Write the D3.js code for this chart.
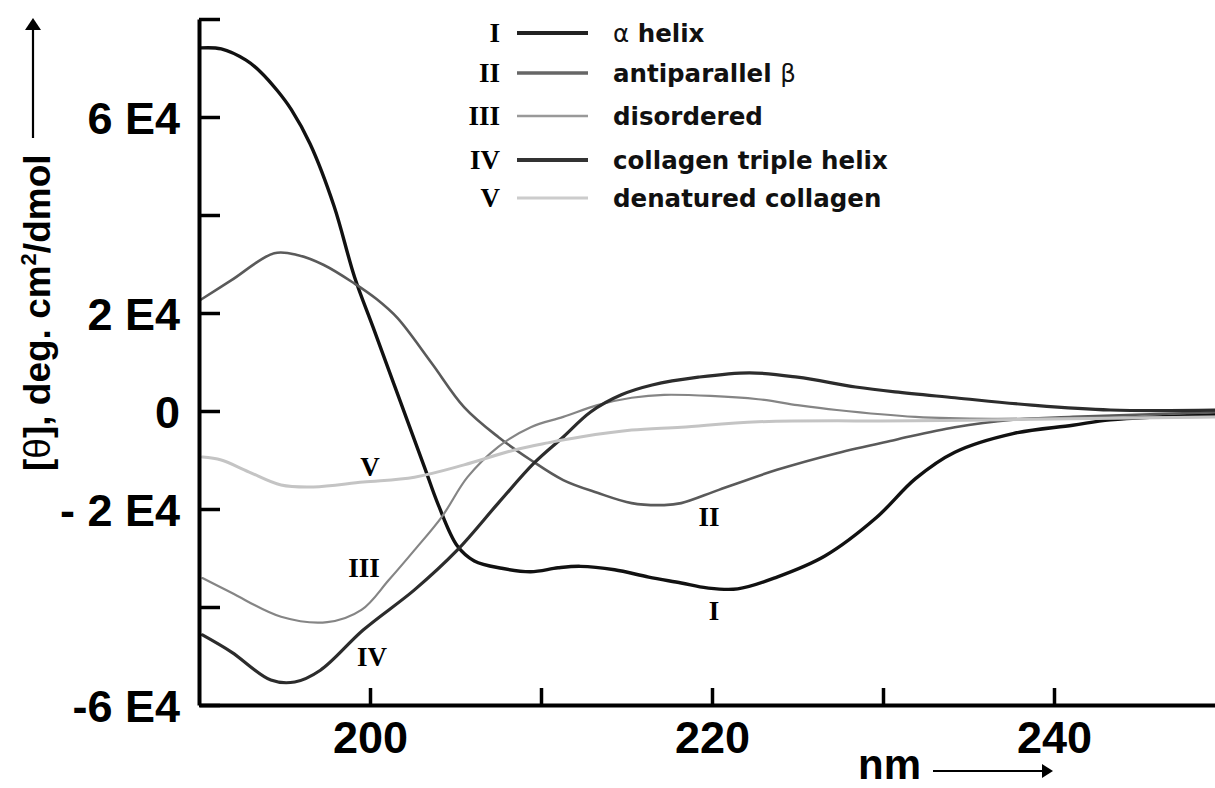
<!DOCTYPE html>
<html><head><meta charset="utf-8">
<script src="https://cdn.jsdelivr.net/npm/d3@7"></script>
<style>body{margin:0;background:#fff} svg{display:block}</style>
</head><body><svg id="c" width="1215" height="788"></svg>
<script>
// ---- data (wavelength nm, mean residue ellipticity deg·cm²/dmol) ----
const xTicks = [200, 210, 220, 230, 240];
const xTickLabels = ["200", "", "220", "", "240"];
const yTicks = [-60000, -40000, -20000, 0, 20000, 40000, 60000, 80000];
const yTickLabels = ["-6 E4", "", "- 2 E4", "0", "2 E4", "", "6 E4", ""];
const seriesIds = ["I", "II", "III", "IV", "V"];
const seriesNames = ["α helix", "antiparallel β", "disordered", "collagen triple helix", "denatured collagen"];

const alphaHelix = [[190.1,74100],[191.3,73900],[192.75,71600],[193.6,69200],[194.6,65300],[195.4,61500],[196.5,54500],[197.9,41800],[199.1,27300],[200.2,16900],[201.4,5500],[202.2,-2100],[203.2,-11600],[204.0,-19200],[205.1,-27500],[206.1,-30600],[207.7,-32100],[209.4,-32800],[211.0,-32000],[212.3,-31700],[214.3,-32400],[216.3,-33900],[218.2,-35100],[219.7,-36100],[221.5,-36300],[223.8,-33900],[226.6,-29600],[229.6,-21800],[231.9,-13800],[234.2,-8400],[237.6,-4600],[241.1,-2900],[243.3,-1800],[250,-700]];
const antiparallelBeta = [[190.1,22700],[191.9,26700],[194.4,32200],[195.8,31800],[197.3,29800],[199.1,26000],[200.4,22800],[201.6,19000],[203.6,9800],[205.5,800],[207.5,-5300],[209.4,-10000],[211.3,-14100],[213.3,-16700],[215.3,-18800],[217.2,-19200],[218.2,-18800],[220.4,-16100],[223.8,-12000],[227.3,-8600],[230.7,-5900],[234.2,-3300],[237.6,-1800],[241.1,-1200],[250,-200]];
const disordered = [[190.2,-34100],[191.9,-37100],[194.8,-42000],[197.5,-43100],[199.5,-40600],[201.1,-34500],[202.6,-28400],[204.2,-21600],[205.7,-13500],[207.5,-7300],[209.4,-3300],[211.3,-1200],[213.3,1200],[215.3,2700],[217.2,3300],[222.7,2400],[225.0,1200],[227.3,200],[231.9,-1200],[236.4,-1600],[241.1,-1400],[250,-1200]];
const collagenTriple = [[190.2,-45700],[191.9,-49200],[194.2,-54900],[195.6,-55300],[197.1,-52900],[199.6,-44700],[202.6,-36500],[205.1,-28400],[207.5,-18800],[209.6,-10600],[211.3,-5300],[212.9,-200],[214.7,3300],[216.5,5300],[219.2,6900],[222.2,7800],[225.0,6900],[228.4,4900],[230.7,3900],[234.2,2700],[238.7,1200],[243.3,200],[250,200]];
const denaturedCollagen = [[190.2,-9400],[191.3,-10000],[192.9,-12400],[194.8,-15100],[196.7,-15500],[199.6,-14500],[202.6,-13500],[205.5,-11000],[208.4,-8000],[210.4,-6500],[212.3,-5300],[215.3,-3900],[218.2,-3300],[222.7,-2200],[231.9,-2000],[241.1,-1600],[250,-1200]];

const seriesData = [alphaHelix, antiparallelBeta, disordered, collagenTriple, denaturedCollagen];
const lineColors = ["#111111", "#5a5a5a", "#858585", "#2c2c2c", "#c4c4c4"];
const lineWidths = [3.4, 2.6, 2.2, 3.2, 3];
const legendColors = ["#222222", "#666666", "#999999", "#333333", "#cccccc"];
const legendWidths = [4, 3.5, 2.5, 4, 3];
const legendRowY = [33, 73, 116, 160, 198];
const curveLabelPos = [[714, 611], [709, 517], [364, 568], [372, 657], [370, 467]];

// ---- scales ----
const svg = d3.select("#c");
const x = d3.scaleLinear().domain([190, 250]).range([199, 1225]);
const y = d3.scaleLinear().domain([-60000, 80000]).range([705, 19]);

// ---- curves ----
const line = d3.line().x(d => x(d[0])).y(d => y(d[1])).curve(d3.curveCatmullRom.alpha(0.5));
const plot = svg.append("g");
seriesData.forEach((s, i) => {
  plot.append("path").attr("d", line(s)).attr("fill", "none")
    .attr("stroke", lineColors[i]).attr("stroke-width", lineWidths[i])
    .attr("stroke-linejoin", "round").attr("stroke-linecap", "round");
});

// ---- axes ----
const tickFont = "'Liberation Sans', Arial, sans-serif";
const yAxis = d3.axisLeft(y).tickValues(yTicks).tickFormat((d, i) => yTickLabels[i])
  .tickSize(-21).tickSizeOuter(0).tickPadding(19);
const gy = svg.append("g").attr("transform", `translate(${x(190)},0)`).call(yAxis);
gy.select(".domain").attr("stroke", "#000").attr("stroke-width", 4);
gy.selectAll(".tick line").attr("stroke", "#000").attr("stroke-width", 3.5);
gy.selectAll(".tick text").attr("font-family", tickFont).attr("font-weight", "bold")
  .attr("font-size", 45).attr("fill", "#000").attr("dy", "0.36em");

const xAxis = d3.axisBottom(x).tickValues(xTicks).tickFormat((d, i) => xTickLabels[i])
  .tickSize(-17).tickSizeOuter(0).tickPadding(16);
const gx = svg.append("g").attr("transform", `translate(0,${y(-60000)})`).call(xAxis);
gx.select(".domain").attr("stroke", "#000").attr("stroke-width", 4);
gx.selectAll(".tick line").attr("stroke", "#000").attr("stroke-width", 3.5);
gx.selectAll(".tick text").attr("font-family", tickFont).attr("font-weight", "bold")
  .attr("font-size", 45).attr("fill", "#000");

// ---- x title with arrow ----
svg.append("text").attr("x", 858).attr("y", 779).attr("font-family", tickFont)
  .attr("font-weight", "bold").attr("font-size", 42).text("nm");
svg.append("line").attr("x1", 933).attr("x2", 1044).attr("y1", 771).attr("y2", 771)
  .attr("stroke", "#000").attr("stroke-width", 2.2);
svg.append("path").attr("d", "M1053,771 L1042,764 L1042,778 Z").attr("fill", "#000");

// ---- y title with arrow ----
const yt = svg.append("text").attr("transform", "translate(50,471) rotate(-90)")
  .attr("font-family", tickFont).attr("font-weight", "bold").attr("font-size", 37).attr("fill", "#000");
yt.append("tspan").text("[");
yt.append("tspan").attr("font-weight", "normal").text("θ");
yt.append("tspan").text("], deg. cm");
yt.append("tspan").attr("font-size", 22).attr("dy", -14).text("2");
yt.append("tspan").attr("dy", 14).text("/dmol");
svg.append("line").attr("x1", 33).attr("x2", 33).attr("y1", 138).attr("y2", 28)
  .attr("stroke", "#000").attr("stroke-width", 2.2);
svg.append("path").attr("d", "M33,18 L25,30 L41,30 Z").attr("fill", "#000");

// ---- legend ----
const serif = "'Liberation Serif', 'Times New Roman', serif";
const legendFont = "'DejaVu Sans', sans-serif";
const leg = svg.append("g");
seriesIds.forEach((id, i) => {
  const ry = legendRowY[i];
  leg.append("text").attr("x", 500).attr("y", ry).attr("dy", "0.35em").attr("text-anchor", "end")
    .attr("font-family", serif).attr("font-weight", "bold").attr("font-size", 27).text(id);
  leg.append("line").attr("x1", 517).attr("x2", 588).attr("y1", ry).attr("y2", ry)
    .attr("stroke", legendColors[i]).attr("stroke-width", legendWidths[i]);
  const t = leg.append("text").attr("x", 613).attr("y", ry).attr("dy", "0.35em")
    .attr("font-family", legendFont).attr("font-weight", "bold").attr("font-size", 24.5).attr("fill", "#111");
  seriesNames[i].split(/([α-ω])/).filter(p => p.length).forEach(p => {
    const sp = t.append("tspan").text(p);
    if (/[α-ω]/.test(p)) sp.attr("font-weight", "normal");
  });
});

// ---- curve labels ----
seriesIds.forEach((id, i) => {
  svg.append("text").attr("x", curveLabelPos[i][0]).attr("y", curveLabelPos[i][1]).attr("dy", "0.35em")
    .attr("text-anchor", "middle").attr("font-family", serif).attr("font-weight", "bold")
    .attr("font-size", 27).text(id);
});
</script>
</body></html>
